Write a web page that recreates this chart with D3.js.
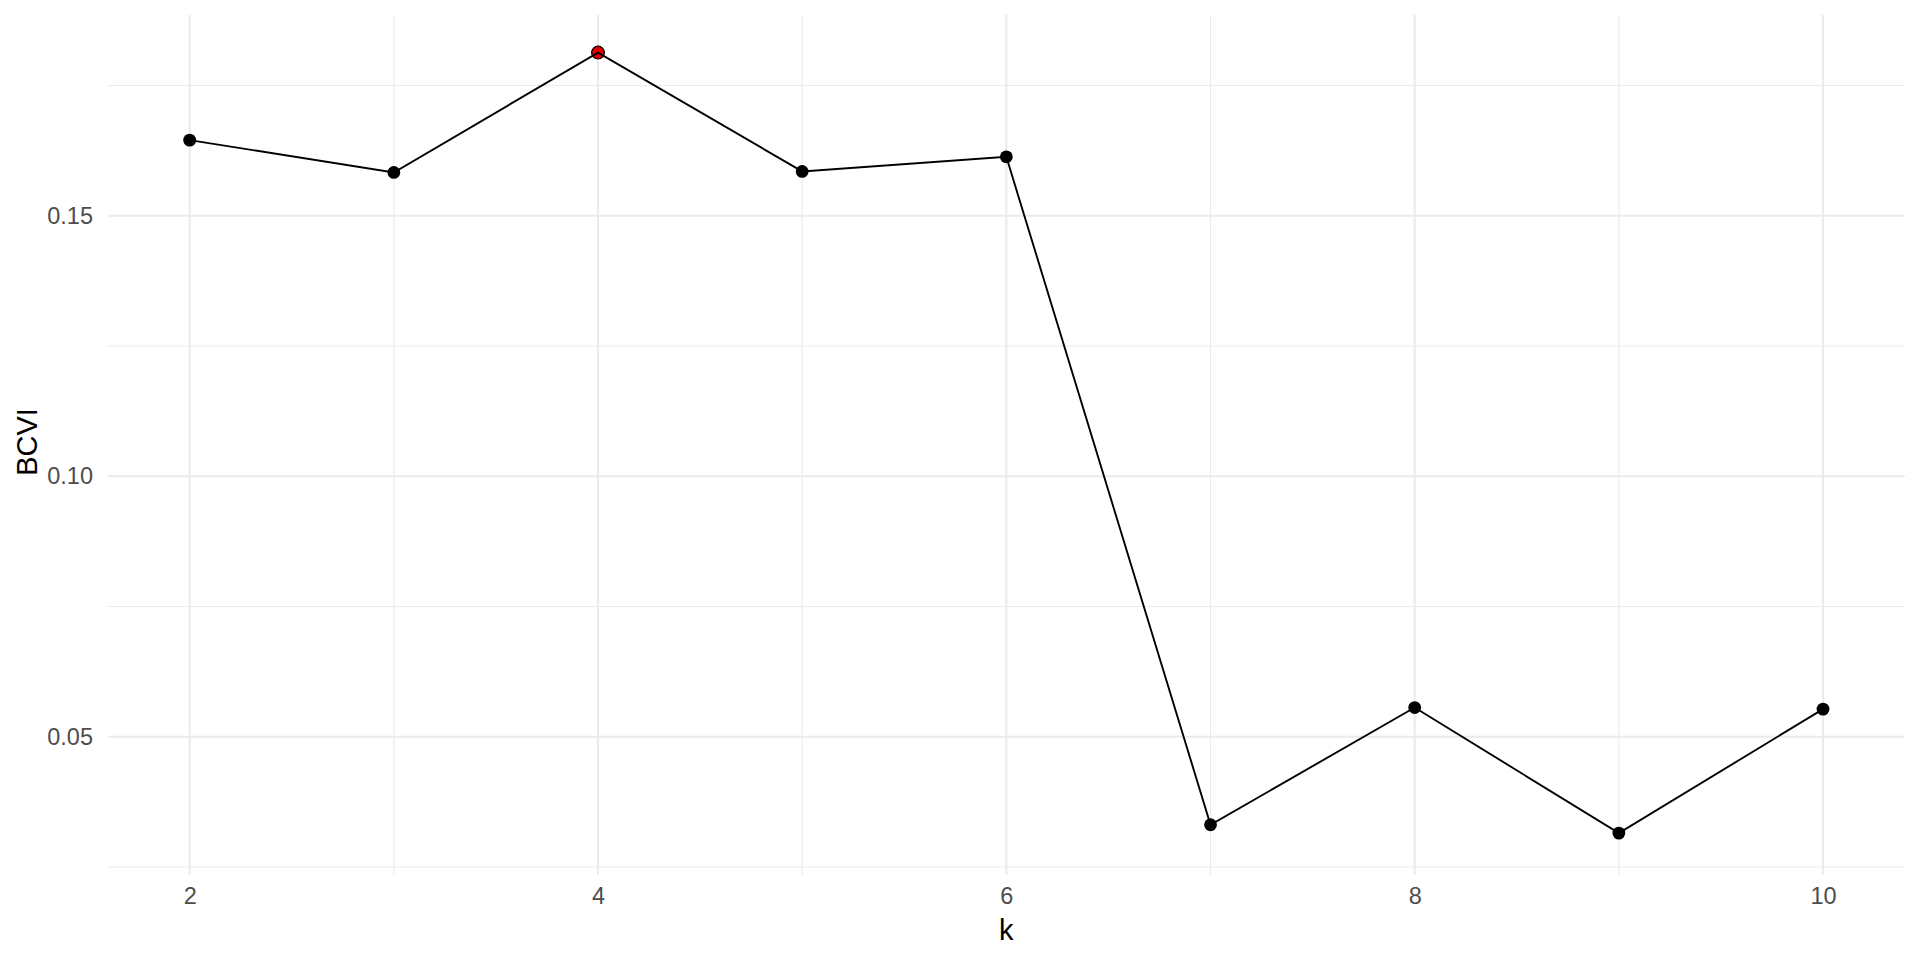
<!DOCTYPE html>
<html>
<head>
<meta charset="utf-8">
<script src="https://cdn.jsdelivr.net/npm/d3@7"></script>
<style>
  html, body { margin: 0; padding: 0; background: #ffffff; }
  svg { display: block; font-family: "Liberation Sans", Arial, sans-serif; }
</style>
</head>
<body>
<svg id="chart" width="1920" height="960"></svg>
<script>
// ---- data ----
const kValues = [2, 3, 4, 5, 6, 7, 8, 9, 10];
const bcviValues = [0.1645, 0.1583, 0.1813, 0.1585, 0.1613, 0.0331, 0.0556, 0.0315, 0.0553];
const highlightK = 4;
const xMajorTicks = [2, 4, 6, 8, 10];
const xMinorTicks = [3, 5, 7, 9];
const yMajorTicks = [0.05, 0.10, 0.15];
const yMinorTicks = [0.025, 0.075, 0.125, 0.175];
const xTitle = "k";
const yTitle = "BCVI";

const data = kValues.map((k, i) => ({ k, v: bcviValues[i] }));

// ---- layout ----
const panel = { left: 108, right: 1904.7, top: 15, bottom: 875 };
const svg = d3.select("#chart");

const x = d3.scaleLinear().domain([1.6, 10.4]).range([panel.left, panel.right]);
const y = d3.scaleLinear().domain([0.02346, 0.18852]).range([panel.bottom, panel.top]);

const grid = svg.append("g");
// minor gridlines
grid.selectAll("line.ymin").data(yMinorTicks).join("line")
  .attr("x1", panel.left).attr("x2", panel.right)
  .attr("y1", d => y(d)).attr("y2", d => y(d))
  .attr("stroke", "#EBEBEB").attr("stroke-width", 1.1);
grid.selectAll("line.xmin").data(xMinorTicks).join("line")
  .attr("y1", panel.top).attr("y2", panel.bottom)
  .attr("x1", d => x(d)).attr("x2", d => x(d))
  .attr("stroke", "#EBEBEB").attr("stroke-width", 1.1);
// major gridlines
grid.selectAll("line.ymaj").data(yMajorTicks).join("line")
  .attr("x1", panel.left).attr("x2", panel.right)
  .attr("y1", d => y(d)).attr("y2", d => y(d))
  .attr("stroke", "#EBEBEB").attr("stroke-width", 2.1);
grid.selectAll("line.xmaj").data(xMajorTicks).join("line")
  .attr("y1", panel.top).attr("y2", panel.bottom)
  .attr("x1", d => x(d)).attr("x2", d => x(d))
  .attr("stroke", "#EBEBEB").attr("stroke-width", 2.1);

// axes (labels only)
const yAxis = svg.append("g").attr("transform", `translate(${panel.left},0)`)
  .call(d3.axisLeft(y).tickValues(yMajorTicks).tickFormat(d3.format(".2f")).tickSize(0).tickPadding(15));
const xAxis = svg.append("g").attr("transform", `translate(0,${panel.bottom})`)
  .call(d3.axisBottom(x).tickValues(xMajorTicks).tickFormat(d3.format("d")).tickSize(0).tickPadding(12));
[yAxis, xAxis].forEach(a => {
  a.select(".domain").remove();
  a.selectAll("text").attr("fill", "#4D4D4D").style("font-size", "23.5px")
    .style("font-family", '"Liberation Sans", Arial, sans-serif');
});

// points
svg.append("g").selectAll("circle").data(data).join("circle")
  .attr("cx", d => x(d.k)).attr("cy", d => y(d.v))
  .attr("r", 6.4)
  .attr("fill", d => d.k === highlightK ? "#E00000" : "#000000")
  .attr("stroke", "#000000").attr("stroke-width", d => d.k === highlightK ? 1.2 : 0);

// line
const line = d3.line().x(d => x(d.k)).y(d => y(d.v));
svg.append("path").datum(data)
  .attr("d", line).attr("fill", "none")
  .attr("stroke", "#000000").attr("stroke-width", 1.9);

// titles
svg.append("text").attr("x", (panel.left + panel.right) / 2).attr("y", 940)
  .attr("text-anchor", "middle").attr("fill", "#000000")
  .style("font-size", "29px").text(xTitle);
svg.append("text")
  .attr("transform", `translate(37,442) rotate(-90)`)
  .attr("text-anchor", "middle").attr("fill", "#000000")
  .style("font-size", "29px").text(yTitle);
</script>
</body>
</html>
